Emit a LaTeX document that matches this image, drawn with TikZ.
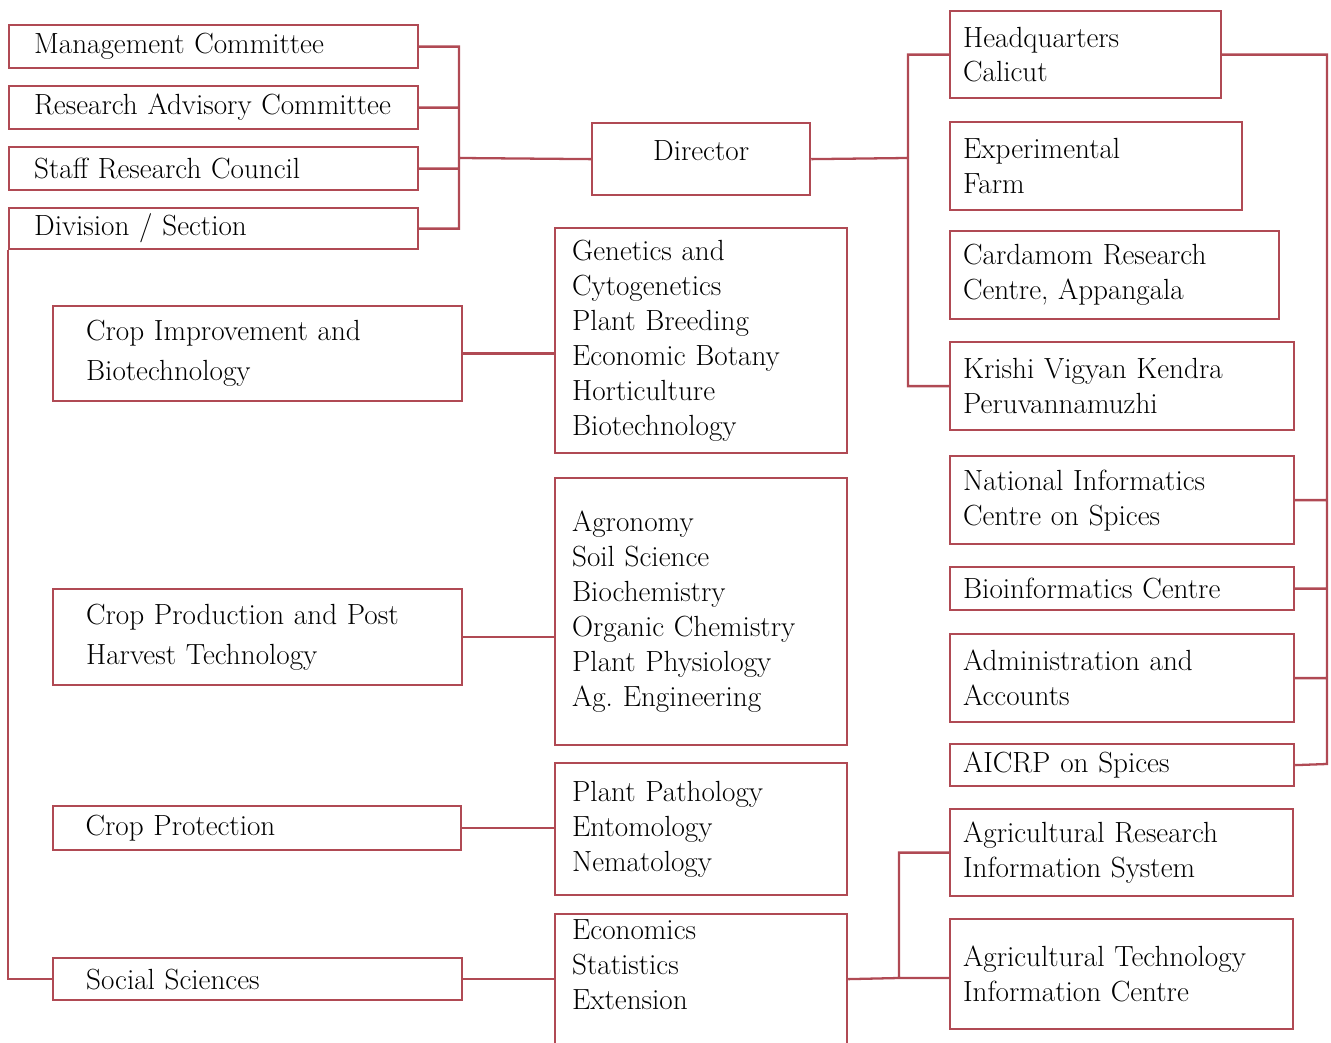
\documentclass[tikz,border=0pt]{standalone}
\usepackage{tikz}

\definecolor{rule}{RGB}{176,74,84}

\begin{document}
\begin{tikzpicture}[x=0.02cm,y=-0.02cm,line width=1.3pt,
  unit/.style={draw=rule,rectangle,anchor=north west,align=left,inner xsep=0pt,
    font=\fontsize{16.6}{19.9}\selectfont},
  top/.style={unit,minimum width=8.18cm,text width=7.18cm},
  div/.style={unit,minimum width=8.18cm,text width=6.86cm,
    font=\fontsize{16.6}{22.8}\selectfont},
  sub/.style={unit,minimum width=5.84cm,text width=5.16cm},
  stn/.style={unit,text width=#1cm-0.52cm,minimum width=#1cm}]
\useasboundingbox (0,0) rectangle (1331,1043);

% committees
\node[top,minimum height=0.86cm] (mc)  at (8,24)  {Management Committee};
\node[top,minimum height=0.86cm] (rac) at (8,85)  {Research Advisory Committee};
\node[top,minimum height=0.86cm] (src) at (8,146) {Staff Research Council};
\node[top,minimum height=0.82cm] (ds)  at (8,207) {Division / Section};

\node[unit,minimum width=4.36cm,minimum height=1.44cm,align=center,text depth=0.35cm] (dir) at (591,122) {Director};

% divisions
\node[div,minimum height=1.90cm] (cib) at (52,305) {Crop Improvement and\\Biotechnology};
\node[div,minimum height=1.92cm] (cpt) at (52,588) {Crop Production and Post\\Harvest Technology};
\node[div,minimum height=0.88cm,minimum width=8.16cm] (cpr) at (52,805) {Crop Protection};
\node[div,minimum height=0.84cm] (ss)  at (52,957) {Social Sciences};

% sections
\node[sub,minimum height=4.50cm] (gen) at (554,227) {Genetics and\\Cytogenetics\\Plant Breeding\\Economic Botany\\Horticulture\\Biotechnology};
\node[sub,minimum height=5.34cm] (agr) at (554,477) {Agronomy\\Soil Science\\Biochemistry\\Organic Chemistry\\Plant Physiology\\Ag.\ Engineering};
\node[sub,minimum height=2.64cm] (pp)  at (554,762) {Plant Pathology\\Entomology\\Nematology};
\node[sub,text depth=3cm] (eco) at (554,913) {Economics\\Statistics\\Extension};

% stations and cells
\node[stn=5.42,minimum height=1.74cm] (hq)   at (949,10)  {Headquarters\\Calicut};
\node[stn=5.84,minimum height=1.76cm] (ef)   at (949,121) {Experimental\\Farm};
\node[stn=6.58,minimum height=1.76cm] (crc)  at (949,230) {Cardamom Research\\Centre, Appangala};
\node[stn=6.88,minimum height=1.76cm] (kvk)  at (949,341) {Krishi Vigyan Kendra\\Peruvannamuzhi};
\node[stn=6.88,minimum height=1.76cm] (nic)  at (949,455) {National Informatics\\Centre on Spices};
\node[stn=6.88,minimum height=0.86cm] (bic)  at (949,566) {Bioinformatics Centre};
\node[stn=6.88,minimum height=1.76cm] (adm)  at (949,633) {Administration and\\Accounts};
\node[stn=6.88,minimum height=0.84cm] (aic)  at (949,743) {AICRP on Spices};
\node[stn=6.86,minimum height=1.74cm] (aris) at (949,808) {Agricultural Research\\Information System};
\node[stn=6.86,minimum height=2.20cm] (atic) at (949,918) {Agricultural Technology\\Information Centre};

\coordinate (jl) at (459,158);
\coordinate (jr) at (908,158);
\coordinate (rb) at (1327,764);
\coordinate (jb) at (899,978);

\draw[rule] (mc.east) -| (jl) |- (ds.east)
  (rac.east) -- (rac.east -| jl)
  (src.east) -- (src.east -| jl)
  (jl) -- (dir.west);
\draw[rule] (dir.east) -- (jr)
  (hq.west) -| (jr) |- (kvk.west);
\draw[rule] (hq.east) -| (rb) -- (aic.east)
  (nic.east) -- (nic.east -| rb)
  (bic.east) -- (bic.east -| rb)
  (adm.east) -- (adm.east -| rb);
\draw[rule] (ds.south west) |- (ss.west);
\draw[rule] (cib.east) -- (cib.east -| gen.west)
  (cpt.east) -- (cpt.east -| agr.west)
  (cpr.east) -- (cpr.east -| pp.west)
  (ss.east) -- (ss.east -| eco.west);
\draw[rule] (ss.east -| eco.east) -- (jb) |- (aris.west)
  (jb) -- (jb -| atic.west);
\end{tikzpicture}
\end{document}
